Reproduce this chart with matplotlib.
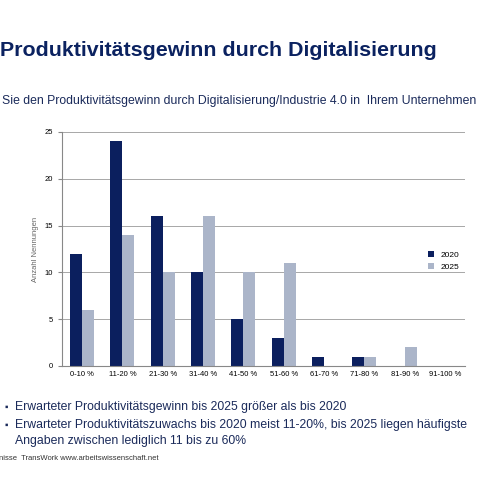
import matplotlib
matplotlib.use("Agg")
import matplotlib.pyplot as plt
import numpy as np

plt.rcParams['font.family'] = ['Liberation Sans', 'DejaVu Sans']

categories = ["0-10 %", "11-20 %", "21-30 %", "31-40 %", "41-50 %", "51-60 %", "61-70 %", "71-80 %", "81-90 %", "91-100 %"]
v2020 = [12, 24, 16, 10, 5, 3, 1, 1, 0, 0]
v2025 = [6, 14, 10, 16, 10, 11, 0, 1, 2, 0]

navy = "#0b1f5e"
light = "#abb5c9"

fig = plt.figure(figsize=(4.8, 4.8), dpi=100)
fig.patch.set_facecolor("white")
ax = fig.add_axes([0.129, 0.2375, 0.84, 0.4875])
x = np.arange(len(categories))
w = 0.3
ax.bar(x - w/2, v2020, w, color=navy, label="2020")
ax.bar(x + w/2, v2025, w, color=light, label="2025")
ax.set_xlim(-0.5, len(categories) - 0.5)
ax.set_ylim(0, 25)
ax.set_yticks(range(0, 26, 5))
ax.yaxis.grid(True, color="#999999", lw=0.6)
ax.set_axisbelow(True)
ax.set_xticks(x)
ax.set_xticklabels(categories, fontsize=5.5)
ax.tick_params(axis='y', labelsize=5.5, length=3, color="#888888")
ax.tick_params(axis='x', length=0)
for s in ["top", "right"]:
    ax.spines[s].set_visible(False)
for s in ["left", "bottom"]:
    ax.spines[s].set_color("#888888")
ax.set_ylabel("Anzahl Nennungen", fontsize=5.5, color="#666666")
ax.legend(loc="center left", bbox_to_anchor=(0.89, 0.45), frameon=False, fontsize=6, handlelength=0.7, handleheight=0.7)

fig.text(0.0, 0.895, "Produktivitätsgewinn durch Digitalisierung", fontsize=15.4, fontweight="bold", color="#0b2260", va="center")
fig.text(0.005, 0.79, "Sie den Produktivitätsgewinn durch Digitalisierung/Industrie 4.0 in  Ihrem Unternehmen", fontsize=8.8, color="#1a2a5a", va="center")
fig.text(0.01, 0.152, "▪", fontsize=7, color="#1a2a5a", va="center")
fig.text(0.032, 0.152, "Erwarteter Produktivitätsgewinn bis 2025 größer als bis 2020", fontsize=8.8, color="#1a2a5a", va="center")
fig.text(0.01, 0.115, "▪", fontsize=7, color="#1a2a5a", va="center")
fig.text(0.032, 0.115, "Erwarteter Produktivitätszuwachs bis 2020 meist 11-20%, bis 2025 liegen häufigste", fontsize=8.8, color="#1a2a5a", va="center")
fig.text(0.032, 0.082, "Angaben zwischen lediglich 11 bis zu 60%", fontsize=8.8, color="#1a2a5a", va="center")
fig.text(-0.002, 0.045, "nisse  TransWork www.arbeitswissenschaft.net", fontsize=5.5, color="#333333", va="center")

fig.savefig("out.png", dpi=100)
